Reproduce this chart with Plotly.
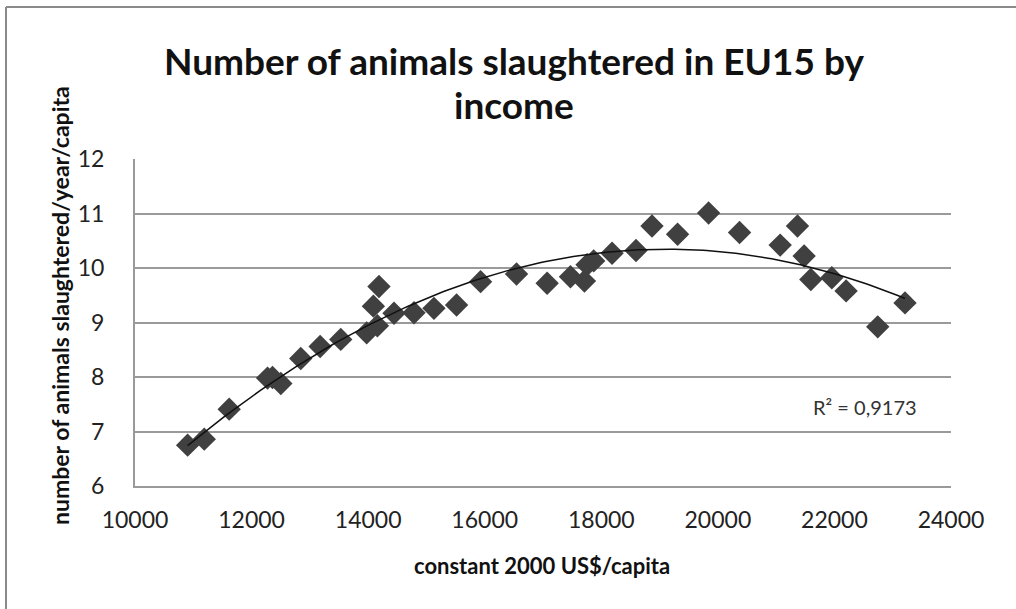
import numpy as np
import plotly.graph_objects as go

# Data
income = [10903, 11188, 11616, 12274, 12359, 12502, 12844, 13176, 13530, 13975,
          14159, 14090, 14186, 14444, 14787, 15129, 15517, 15929, 16546, 17071,
          17471, 17711, 17756, 17870, 18185, 18596, 18870, 19309, 19841, 20372,
          21069, 21366, 21480, 21595, 21955, 22200, 22743, 23211]
animals = [6.75, 6.86, 7.41, 7.98, 7.99, 7.88, 8.34, 8.56, 8.69, 8.81,
           8.94, 9.30, 9.66, 9.17, 9.18, 9.26, 9.32, 9.75, 9.89, 9.72,
           9.84, 9.76, 10.06, 10.13, 10.27, 10.32, 10.77, 10.62, 11.01, 10.65,
           10.42, 10.77, 10.22, 9.79, 9.82, 9.58, 8.92, 9.36]
x_ticks = [10000, 12000, 14000, 16000, 18000, 20000, 22000, 24000]
x_tick_text = ["10000", "12000", "14000", "16000", "18000", "20000", "22000", "24000"]
y_ticks = [6, 7, 8, 9, 10, 11, 12]
title_lines = ["Number of animals slaughtered in EU15 by", "income"]
r2_label = "R² = 0,9173"

# Polynomial (order 2) trendline fitted to the data
coef = np.polyfit(income, animals, 2)
xt = np.linspace(min(income), max(income), 200)
yt = np.polyval(coef, xt)

FONT = "Lato"
GRID = "#9a9a9a"

fig = go.Figure()
fig.add_trace(go.Scatter(
    x=income, y=animals, mode="markers",
    marker=dict(symbol="diamond", size=18, color="#404040",
                line=dict(width=0)),
    showlegend=False, hoverinfo="x+y"))
fig.add_trace(go.Scatter(
    x=xt, y=yt, mode="lines", line=dict(color="#111111", width=1.5),
    showlegend=False, hoverinfo="skip"))

# plot area: x 135..951 px, y 159..486 px
L, R, T, B = 135, 951, 159, 486
W, H = 1016, 609


def px(xp):
    return (xp - L) / (R - L)


def py(yp):
    return (B - yp) / (B - T)


fig.update_layout(
    width=W, height=H,
    margin=dict(l=L, r=W - R, t=T, b=H - B),
    paper_bgcolor="white", plot_bgcolor="white",
    font=dict(family=FONT, color="#222222"),
    xaxis=dict(range=[10000, 24000], tickvals=x_ticks, ticktext=x_tick_text,
               showgrid=False,
               showline=True, linecolor=GRID, linewidth=2,
               zeroline=False, ticks="", ticklabelstandoff=12,
               tickfont=dict(size=23, family=FONT, color="#222222")),
    yaxis=dict(range=[6, 12], tickvals=y_ticks, showgrid=True,
               gridcolor=GRID, gridwidth=2, showline=True,
               linecolor=GRID, linewidth=2, zeroline=False, ticks="",
               ticklabelstandoff=24,
               tickfont=dict(size=23, family=FONT, color="#222222")),
    annotations=[
        dict(text="<b>" + title_lines[0] + "</b>",
             x=px(514), y=py(61), xref="paper", yref="paper",
             xanchor="center", yanchor="middle", showarrow=False,
             font=dict(size=37, family=FONT, color="#111111")),
        dict(text="<b>" + title_lines[1] + "</b>",
             x=px(514), y=py(104), xref="paper", yref="paper",
             xanchor="center", yanchor="middle", showarrow=False,
             font=dict(size=37, family=FONT, color="#111111")),
        dict(text="<b>number of animals slaughtered/year/capita</b>",
             x=px(60), y=py(306), xref="paper", yref="paper",
             xanchor="center", yanchor="middle", showarrow=False,
             textangle=-90, font=dict(size=23, family=FONT, color="#111111")),
        dict(text="<b>constant 2000 US$/capita</b>",
             x=px(542), y=py(565), xref="paper", yref="paper",
             xanchor="center", yanchor="middle", showarrow=False,
             font=dict(size=22, family=FONT, color="#111111")),
        dict(text=r2_label,
             x=px(865), y=py(407), xref="paper", yref="paper",
             xanchor="center", yanchor="middle", showarrow=False,
             font=dict(size=20, family=FONT, color="#333333")),
    ],
    shapes=[
        dict(type="line", xref="paper", yref="paper",
             x0=px(6), x1=px(1016), y0=py(7), y1=py(7),
             line=dict(color="#8a8a8a", width=2)),
        dict(type="line", xref="paper", yref="paper",
             x0=px(6), x1=px(6), y0=py(7), y1=py(609),
             line=dict(color="#8a8a8a", width=2)),
    ],
)

fig.write_html("out.html")
